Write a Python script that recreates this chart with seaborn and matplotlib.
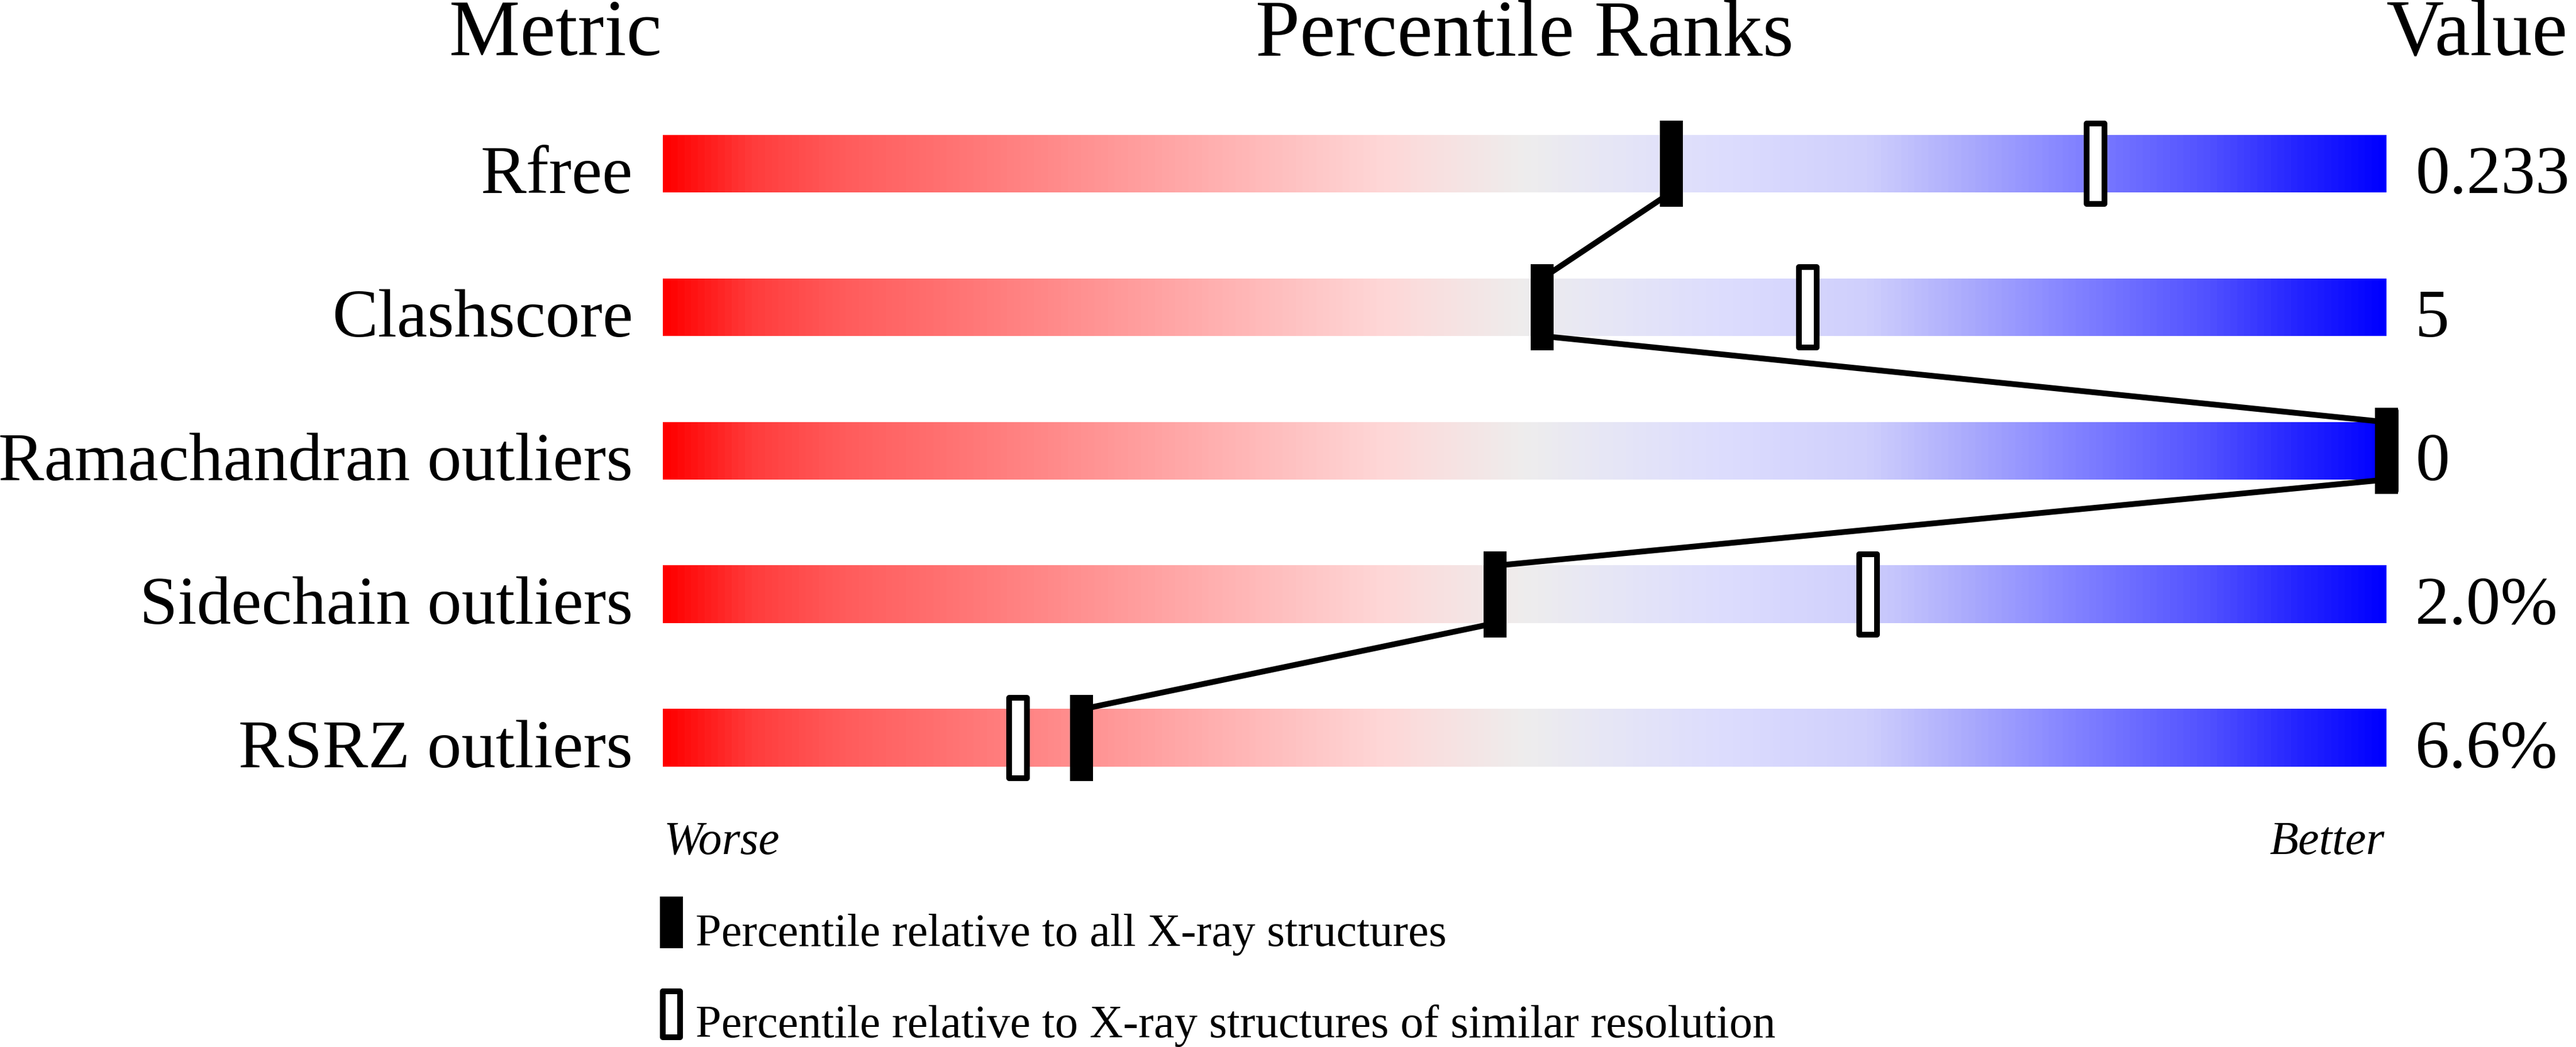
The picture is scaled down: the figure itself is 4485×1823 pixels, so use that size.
import numpy as np
import pandas as pd
import matplotlib
matplotlib.use("Agg")
import matplotlib.pyplot as plt
import seaborn as sns
from matplotlib.colors import LinearSegmentedColormap
from matplotlib.path import Path
from matplotlib import transforms
from matplotlib import font_manager

############################ data ############################

metrics = ['Rfree', 'Clashscore', 'Ramachandran outliers', 'Sidechain outliers', 'RSRZ outliers']
values = ['0.233', '5', '0', '2.0%', '6.6%']
pct_all = [58.5, 51.0, 100.0, 48.3, 24.3]        # percentile vs all X-ray structures
pct_similar = [83.1, 66.4, 100.0, 69.9, 20.6]    # percentile vs similar resolution

df = pd.DataFrame({'metric': metrics, 'row': range(len(metrics)),
                   'pct_all': pct_all, 'pct_similar': pct_similar})

############################ style ############################

sns.set_theme(style='white')
installed = {f.name for f in font_manager.fontManager.ttflist}
serif = [f for f in ['Liberation Serif', 'Times New Roman', 'Nimbus Roman', 'DejaVu Serif'] if f in installed]
plt.rcParams['font.family'] = 'serif'
plt.rcParams['font.serif'] = serif
plt.rcParams['text.color'] = 'black'

W, H, dpi = 4485, 1824, 100
fig = plt.figure(figsize=(W / dpi, H / dpi), dpi=dpi)
ax = fig.add_axes([1154 / W, 1 - 1411 / H, 3001 / W, 1250 / H])

# red -> pink -> grey -> lavender -> blue
cmap = LinearSegmentedColormap.from_list('slider', [
    (0.00, '#ff0000'), (0.05, '#ff3c3c'), (0.10, '#ff5a5a'), (0.18, '#ff7878'),
    (0.28, '#ffa0a0'), (0.35, '#ffbcbc'), (0.42, '#fed8d8'), (0.50, '#eeeded'),
    (0.55, '#e6e6f6'), (0.62, '#dcdcfe'), (0.70, '#cfcffc'), (0.75, '#b0b0fc'),
    (0.80, '#9090ff'), (0.85, '#7070ff'), (0.90, '#5050ff'), (0.95, '#2525ff'),
    (1.00, '#0000ff')])
ramp = np.linspace(0, 1, 600).reshape(1, -1)

half = 0.2  # half bar height in row units
for r in df['row']:
    ax.imshow(ramp, extent=(0, 100, r + half, r - half), cmap=cmap,
              aspect='auto', interpolation='bilinear', zorder=1)

############################ connecting line ############################

seg = []
for i in range(len(df) - 1):
    seg.append({'seg': i, 'x': pct_all[i], 'y': i + half})
    seg.append({'seg': i, 'x': pct_all[i + 1], 'y': i + 1 - half})
seg = pd.DataFrame(seg)
sns.lineplot(data=seg, x='x', y='y', units='seg', estimator=None, sort=False,
             color='black', lw=7.2, ax=ax, zorder=3, solid_capstyle='butt')

############################ markers ############################

def rect(w, h):
    return Path([(-w / 2, -h / 2), (w / 2, -h / 2), (w / 2, h / 2), (-w / 2, h / 2), (-w / 2, -h / 2)],
                closed=True)

px = 72 / dpi
sns.scatterplot(data=df, x='pct_similar', y='row', marker=rect(31, 140), s=(140 * px) ** 2,
                color='white', edgecolor='black', linewidth=10 * px, ax=ax, zorder=4, clip_on=False)
sns.scatterplot(data=df, x='pct_all', y='row', marker=rect(40, 150), s=(150 * px) ** 2,
                color='black', linewidth=0, ax=ax, zorder=5, clip_on=False)

ax.set_xlim(0, 100)
ax.set_ylim(len(df) - 0.5, -0.5)
ax.axis('off')

############################ text ############################

fig.text(1152 / W, 1 - 96 / H, 'Metric', ha='right', va='baseline', fontsize=100)
fig.text(2654 / W, 1 - 97 / H, 'Percentile Ranks', ha='center', va='baseline', fontsize=100)
fig.text(4155 / W, 1 - 96 / H, 'Value', ha='left', va='baseline', fontsize=100)

trans = transforms.blended_transform_factory(fig.transFigure, ax.transData)
for r, (m, v) in enumerate(zip(metrics, values)):
    ax.text(1102 / W, r + half, m, transform=trans, ha='right', va='baseline', fontsize=86)
    ax.text(4205 / W, r + half, v, transform=trans, ha='left', va='baseline', fontsize=86)

fig.text(1156 / W, 1 - 1487 / H, 'Worse', ha='left', va='baseline', fontsize=59, style='italic')
fig.text(4151 / W, 1 - 1487 / H, 'Better', ha='right', va='baseline', fontsize=59, style='italic')

# legend
ax.scatter([1169 / W], [1 - 1607 / H], transform=fig.transFigure, marker=rect(40, 90),
           s=(90 * px) ** 2, color='black', linewidth=0, clip_on=False)
ax.scatter([1169 / W], [1 - 1767 / H], transform=fig.transFigure, marker=rect(30, 80),
           s=(80 * px) ** 2, facecolor='white', edgecolor='black', linewidth=10 * px, clip_on=False)
fig.text(1211 / W, 1 - 1647 / H, 'Percentile relative to all X-ray structures',
         ha='left', va='baseline', fontsize=58)
fig.text(1211 / W, 1 - 1806 / H, 'Percentile relative to X-ray structures of similar resolution',
         ha='left', va='baseline', fontsize=58)

fig.savefig('out.png', dpi=dpi, facecolor='white')
